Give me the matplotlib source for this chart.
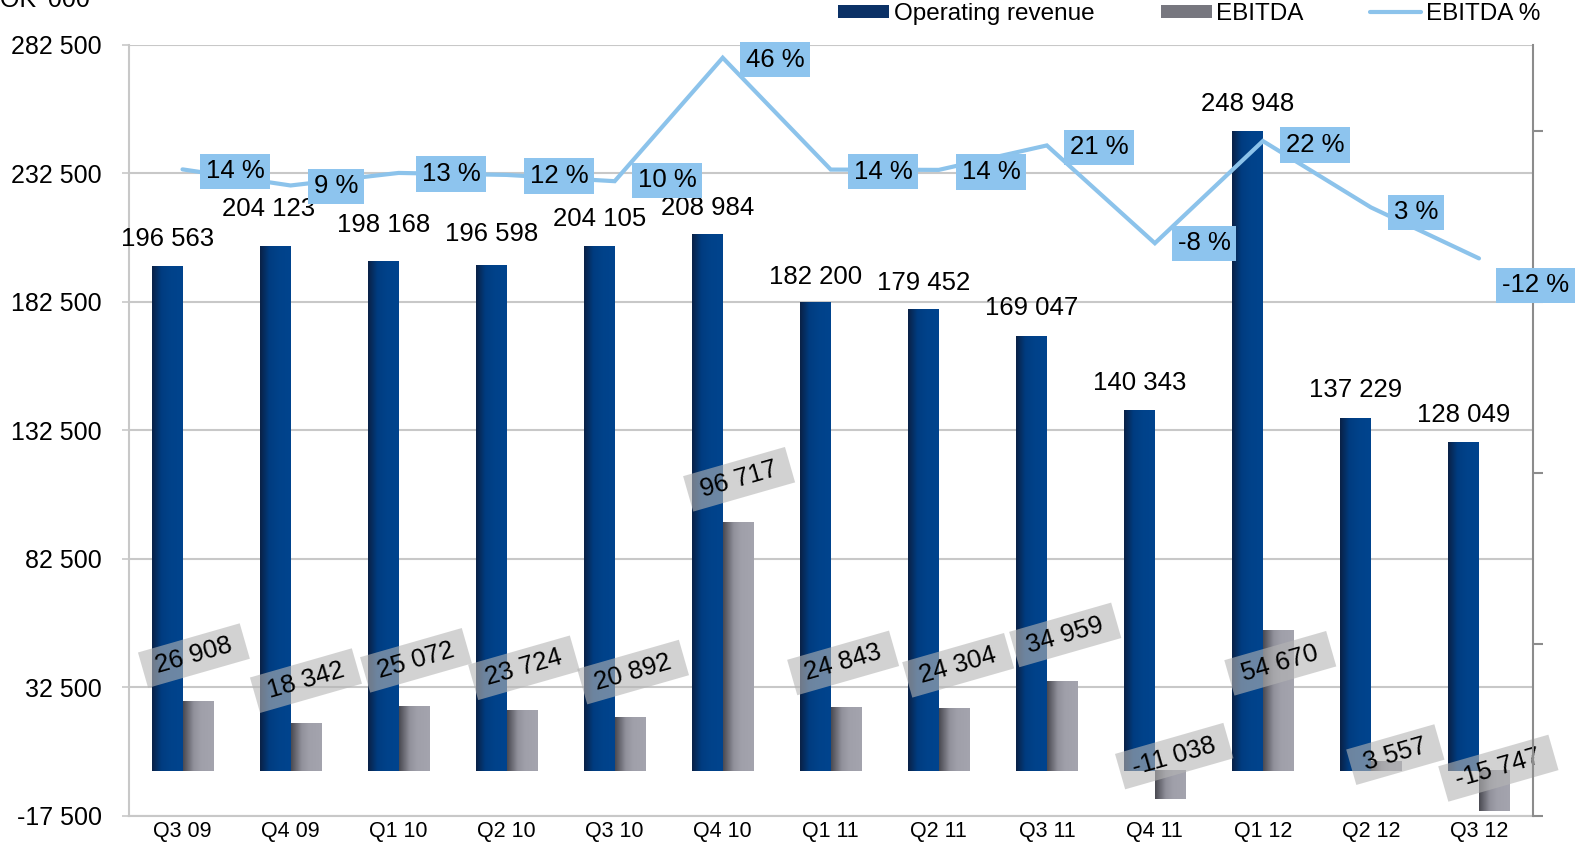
import numpy as np
import matplotlib
matplotlib.use("Agg")
import matplotlib.pyplot as plt
from matplotlib.colors import LinearSegmentedColormap
from matplotlib.lines import Line2D
from matplotlib.patches import Patch

plt.rcParams['font.family'] = ['Liberation Sans', 'DejaVu Sans']

# ---------------- data ----------------
quarters = ["Q3 09", "Q4 09", "Q1 10", "Q2 10", "Q3 10", "Q4 10", "Q1 11",
            "Q2 11", "Q3 11", "Q4 11", "Q1 12", "Q2 12", "Q3 12"]
revenue = [196563, 204123, 198168, 196598, 204105, 208984, 182200,
           179452, 169047, 140343, 248948, 137229, 128049]
ebitda = [26908, 18342, 25072, 23724, 20892, 96717, 24843,
          24304, 34959, -11038, 54670, 3557, -15747]
ebitda_pct = [13.69, 8.99, 12.65, 12.07, 10.24, 46.28, 13.63,
              13.54, 20.68, -7.87, 21.96, 2.59, -12.30]
left_ticks = [-17500, 32500, 82500, 132500, 182500, 232500, 282500]
right_ticks = [-1.75, -1.25, -0.75, -0.25, 0.25]

# label placement tweaks (pixels)
rev_dx = [0, -7, 0, 0, 0, 0, 0, 0, 0, 0, 0, 0, 0]
rev_dy = [27, 37, 37, 32, 27, 26, 26, 27, 28, 27, 27, 28, 27]
eb_dx = [-4, 0, 2, 2, 3, 1, -3, 4, 3, 4, 2, 9, 4]
eb_dy = [46, 43, 46, 42, 45, 43, 44, 43, 46, 43, -33, 7, 43]
pct_dy = [-2, -1, -1, -1, 1, -2, -2, -2, -2, 0, -4, -5, -27]

def fmt(v):
    return f"{v:,}".replace(",", " ")

W, H = 1581, 842
fig = plt.figure(figsize=(W / 100, H / 100), dpi=100)
L, R = 128.5 / W, 1533 / W
B, T = (H - 815.7) / H, (H - 45) / H
ax = fig.add_axes([L, B, R - L, T - B])

x = np.arange(len(quarters))
bw = 0.285
blue = "#00428A"
grey = "#A0A0AA"
fs = 18.5

ax.set_axisbelow(True)
b1 = ax.bar(x - bw / 2, revenue, bw, color=blue, zorder=2)
b2 = ax.bar(x + bw / 2, ebitda, bw, color=grey, zorder=2)

cm_blue = LinearSegmentedColormap.from_list(
    "b", [(0, "#0A2146"), (0.3, "#003C80"), (0.6, "#00428A"), (1, "#00448E")])
cm_grey = LinearSegmentedColormap.from_list(
    "g", [(0, "#4A4A52"), (0.35, "#92929C"), (0.6, "#A0A0AA"), (1, "#A4A4AE")])
grad = np.linspace(0, 1, 64)[np.newaxis, :]
for bars, cm in ((b1, cm_blue), (b2, cm_grey)):
    for r in bars:
        x0, y0 = r.get_x(), r.get_y()
        x1, y1 = x0 + r.get_width(), y0 + r.get_height()
        ax.imshow(grad, extent=(x0, x1, min(y0, y1), max(y0, y1)),
                  aspect='auto', cmap=cm, interpolation='bicubic', zorder=2.2)

ax.set_xlim(-0.5, len(quarters) - 0.5)
ax.set_ylim(-17500, 282500)
ax.set_yticks(left_ticks)
ax.set_yticklabels([fmt(t) for t in left_ticks], fontsize=18)
ax.yaxis.grid(True, color="#C8C8C8", lw=1.5)
ax.tick_params(axis='y', length=5, width=1.2, color="#C8C8C8", pad=14)
ax.set_xticks(x)
ax.set_xticklabels(quarters, fontsize=15.5)
ax.tick_params(axis='x', length=0, pad=4)
ax.spines['top'].set_visible(False)
ax.spines['left'].set_color("#C8C8C8")
ax.spines['left'].set_linewidth(1.5)
ax.spines['bottom'].set_color("#C8C8C8")
ax.spines['bottom'].set_linewidth(1.5)
ax.spines['right'].set_visible(False)

# revenue labels
for i, v in enumerate(revenue):
    ax.annotate(fmt(v), (x[i] - bw / 2, v), xytext=(rev_dx[i], rev_dy[i]),
                textcoords='offset pixels', ha='center', va='center',
                fontsize=fs, zorder=5)

# EBITDA labels
for i, v in enumerate(ebitda):
    ax.annotate(" " + fmt(v) + " ", (x[i] + bw / 2, v), xytext=(eb_dx[i], eb_dy[i]),
                textcoords='offset pixels', ha='center', va='center',
                fontsize=fs, rotation=16, rotation_mode='anchor', zorder=6,
                bbox=dict(boxstyle='square,pad=0.25', fc="#B5B5B5", ec='none', alpha=0.6))

# secondary axis
ax2 = ax.twinx()
ax2.set_ylim(-1.75, 0.5)
ax2.set_yticks(right_ticks)
ax2.set_yticklabels([])
ax2.tick_params(axis='y', length=7, width=1.5, color="#8C8C8C")
for s in ("top", "left", "bottom"):
    ax2.spines[s].set_visible(False)
ax2.spines['right'].set_color("#8C8C8C")
ax2.spines['right'].set_linewidth(1.5)
pct = np.array(ebitda_pct) / 100
ax2.plot(x, pct, color="#8CC3EB", lw=3, solid_capstyle='round',
         solid_joinstyle='miter', zorder=3)
for i, p in enumerate(ebitda_pct):
    ax2.annotate(f"{int(np.floor(p + 0.5))} %", (x[i], pct[i]), xytext=(23, pct_dy[i]),
                 textcoords='offset pixels', ha='left', va='center', fontsize=fs,
                 zorder=6, annotation_clip=False,
                 bbox=dict(boxstyle='square,pad=0.22', fc="#8DC4EE", ec='none'))

# legend
handles = [Patch(facecolor="#0B3166"), Patch(facecolor="#77777F"),
           Line2D([0], [0], color="#8CC3EB", lw=3, solid_capstyle='round')]
fig.legend(handles, ["Operating revenue", "EBITDA", "EBITDA %"], ncol=3,
           loc='upper right', bbox_to_anchor=(1540 / W, 1 - 3 / H), frameon=False,
           fontsize=17.5, handlelength=2.1, handleheight=0.47, handletextpad=0.17,
           columnspacing=2.75, borderpad=0, borderaxespad=0)

fig.text(90 / W, 1 - 7 / H, "NOK '000", ha='right', va='baseline', fontsize=18)

fig.savefig("out.png", dpi=100)
